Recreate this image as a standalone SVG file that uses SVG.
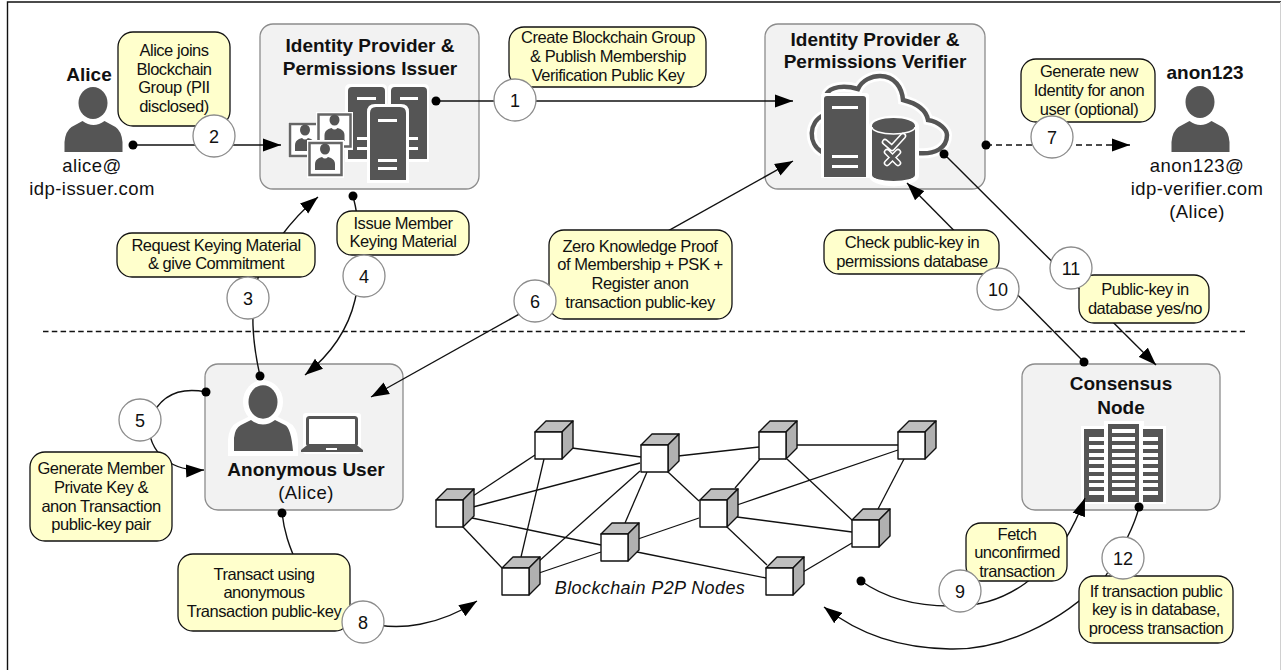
<svg xmlns="http://www.w3.org/2000/svg" width="1281" height="670" viewBox="0 0 1281 670">
<style>
text{font-family:"Liberation Sans",Arial,sans-serif;fill:#111;text-anchor:middle}
.t{font-size:16.5px;letter-spacing:-0.46px}
.l{font-size:18.5px;letter-spacing:0.45px}
.b{font-size:19px;font-weight:bold}
.n{font-size:18px}
.box{fill:#f2f2f2;stroke:#8c8c8c;stroke-width:1.3}
.co{fill:#ffffcc;stroke:#111;stroke-width:1.3}
.c{fill:#fff;stroke:#8c8c8c;stroke-width:1.3}
.k{fill:#555}
.w{fill:#fff}
.cw{fill:none;stroke:#111;stroke-width:1.4}
.da{marker-end:url(#arrow);marker-start:url(#dot)}
.cube path{stroke:#111;stroke-width:1.4;stroke-linejoin:round}
.f{fill:#fff}.g1{fill:#bfbfbf}.g2{fill:#b0b0b0}
#mesh line{stroke:#111;stroke-width:1.3}
</style>
<defs>
<marker id="arrow" markerUnits="userSpaceOnUse" markerWidth="19" markerHeight="14" refX="18" refY="7" orient="auto-start-reverse"><path d="M0 0.5L18 7L0 13.5Z" fill="#000"/></marker>
<marker id="dot" markerUnits="userSpaceOnUse" markerWidth="10" markerHeight="10" refX="5" refY="5"><circle cx="5" cy="5" r="4.5" fill="#000"/></marker>
<g id="cubeShape" class="cube"><path class="g1" d="M0 0L11 -11H38L27 0Z"/><path class="g2" d="M27 0L38 -11V16L27 27Z"/><path class="f" d="M0 0H27V27H0Z"/></g>
<g id="bust"><ellipse cx="0" cy="-21" rx="5" ry="5.5"/><path d="M-10 0V-6Q-10 -10 -6 -12L-3 -13Q0 -10 3 -13L6 -12Q10 -10 10 -6V0Z"/></g>
<path id="personBody" d="M-29 32V22Q-28 11 -22 7L-11 1Q0 9 11 1L22 7Q28 11 29 22V32Z"/>
</defs>
<g id="frame" fill="none"><path d="M7.5 670V2H1281" stroke="#111" stroke-width="1.4"/><path d="M1280.5 2V670" stroke="#d0d0d0"/></g>
<path id="divider" d="M43 331.5H1245" fill="none" stroke="#111" stroke-width="1.3" stroke-dasharray="5.5 3.3"/>
<g id="issuer">
<rect class="box" x="260" y="24" width="219" height="165" rx="13"/>
<text class="b" x="370" y="52">Identity Provider &amp;</text>
<text class="b" x="370" y="75">Permissions Issuer</text>
<path class="w" d="M345 89q0-5 5-5h32q5 0 5 5v73h-42zM388 89q0-5 5-5h31q5 0 5 5v73h-41z"/>
<path class="k" d="M348 91q0-4 4-4h29q4 0 4 4v68h-37zM391 91q0-4 4-4h28q4 0 4 4v68h-36z"/>
<path class="w" d="M357 97h19v3h-19zM400 97h18v3h-18zM357 137h19v3h-19zM357 147h19v3h-19zM400 137h18v3h-18zM400 147h18v3h-18z"/>
<path class="w" d="M367 112q0-8 8-8h26q8 0 8 8v71h-42z"/>
<path class="k" d="M370 113q0-6 6-6h24q6 0 6 6v67h-36z"/>
<path class="w" d="M378 119h19v3h-19zM378 159h19v3h-19zM378 167h19v3h-19z"/>
<rect x="288" y="122" width="36" height="36" fill="#fff"/>
<rect x="290" y="124" width="32" height="32" fill="#fff" stroke="#666" stroke-width="2.5"/>
<use href="#bust" x="305" y="151" class="k"/>
<rect x="316" y="112" width="37" height="38" fill="#fff"/>
<rect x="318.500" y="114.500" width="32" height="32" fill="#fff" stroke="#666" stroke-width="2.5"/>
<use href="#bust" x="334.500" y="141" class="k"/>
<rect x="307" y="140" width="37" height="38" fill="#fff"/>
<rect x="309.500" y="143" width="32" height="32" fill="#fff" stroke="#666" stroke-width="2.5"/>
<use href="#bust" x="325" y="170" class="k"/>
</g>
<g id="verifier">
<rect class="box" x="765" y="24" width="220" height="165" rx="13"/>
<text class="b" x="875" y="46">Identity Provider &amp;</text>
<text class="b" x="875" y="68">Permissions Verifier</text>
<path d="M822 152C808 144 808 122 824 115M826 95C830 86 845 85 858 89C862 80 872 76 880 76C895 76 902 88 903 100C915 103 926 108 928 120C940 122 947 130 947 135C947 148 935 155 917 153" fill="none" stroke="#fff" stroke-width="10"/>
<path d="M822 152C808 144 808 122 824 115M826 95C830 86 845 85 858 89C862 80 872 76 880 76C895 76 902 88 903 100C915 103 926 108 928 120C940 122 947 130 947 135C947 148 935 155 917 153" fill="none" stroke="#555" stroke-width="4.500"/>
<path class="w" d="M821 96q0-3 3-3h42q3 0 3 3v82h-48z"/>
<path class="k" d="M824 99q0-3 3-3h36q3 0 3 3v78h-42z"/>
<path class="w" d="M832 106h26v3h-26zM832 155h26v3h-26zM832 165h26v3h-26z"/>
<path class="w" d="M869 126a24 10 0 0 1 50 0v50a24 10 0 0 1-50 0z"/>
<path class="k" d="M872 126a21.500 8 0 0 1 43 0v49a21.500 6 0 0 1-43 0z"/>
<path d="M872 127a21.500 7 0 0 0 43 0" fill="none" stroke="#fff" stroke-width="1.500"/>
<path d="M885 142L892 148L903 136M887 152L898 163M898 152L887 163" fill="none" stroke="#fff" stroke-width="6.500" stroke-linecap="round" stroke-linejoin="round"/>
<path d="M885 142L892 148L903 136M887 152L898 163M898 152L887 163" fill="none" stroke="#555" stroke-width="3.500" stroke-linecap="round" stroke-linejoin="round"/>
</g>
<g id="anon-user">
<rect class="box" x="205" y="364" width="198" height="146" rx="13"/>
<ellipse cx="263" cy="402" rx="20" ry="22" fill="#fff"/>
<path d="M228 456V440Q229 426 238 422L250 416Q263 427 276 416L288 422Q297 426 298 440V456Z" fill="#fff"/>
<ellipse class="k" cx="263" cy="402" rx="14.500" ry="16.700"/>
<path class="k" d="M234 451V438Q235 428 241 425L251 420Q263 429 275 420L285 425Q291 428 293 451Z"/>
<rect x="303" y="413" width="58" height="41" rx="3" fill="#fff"/>
<rect x="307.500" y="417.500" width="49" height="28" rx="2" fill="#fff" stroke="#555" stroke-width="3"/>
<path class="k" d="M306 446H358L363 450V452H301V450Z"/>
<rect class="w" x="326" y="448" width="11" height="2"/>
<text class="b" x="306" y="476">Anonymous User</text>
<text class="l" x="306" y="499">(Alice)</text>
</g>
<g id="consensus">
<rect class="box" x="1022" y="364" width="198" height="146" rx="13"/>
<text class="b" x="1121" y="390">Consensus</text>
<text class="b" x="1121" y="414">Node</text>
<path class="w" d="M1081 426H1104V421H1144V426H1166V504H1081Z"/>
<path class="k" d="M1084 429H1104V502H1084ZM1108 424H1139V502H1108ZM1143 429H1163V502H1143Z"/>
<path class="w" d="M1089 437h15v4h-15zM1089 445h15v4h-15zM1089 453h15v4h-15zM1089 460h15v4h-15zM1089 468h15v4h-15zM1089 476h15v4h-15zM1089 483h15v4h-15zM1089 491h15v4h-15zM1112 429h23v4h-23zM1112 437h23v4h-23zM1112 445h23v4h-23zM1112 453h23v4h-23zM1112 460h23v4h-23zM1112 468h23v4h-23zM1112 476h23v4h-23zM1112 483h23v4h-23zM1112 491h23v4h-23zM1143 437h15v4h-15zM1143 445h15v4h-15zM1143 453h15v4h-15zM1143 460h15v4h-15zM1143 468h15v4h-15zM1143 476h15v4h-15zM1143 483h15v4h-15zM1143 491h15v4h-15z"/>
</g>
<g id="alice">
<text class="b" x="89" y="81">Alice</text>
<ellipse class="k" cx="93" cy="103" rx="14.500" ry="16"/>
<use href="#personBody" x="93.500" y="120" class="k"/>
<text class="l" x="92" y="172">alice@</text>
<text class="l" x="92" y="195">idp-issuer.com</text>
</g>
<g id="anon123">
<text class="b" x="1205" y="79">anon123</text>
<ellipse class="k" cx="1200" cy="102" rx="14.500" ry="16"/>
<use href="#personBody" x="1200.500" y="120" class="k"/>
<text class="l" x="1197" y="172">anon123@</text>
<text class="l" x="1197" y="195">idp-verifier.com</text>
<text class="l" x="1197" y="218">(Alice)</text>
</g>
<g id="p2p-network">
<g id="mesh">
<line x1="535" y1="455" x2="473" y2="496"/><line x1="544" y1="459" x2="521" y2="557"/><line x1="572" y1="448" x2="641" y2="457"/><line x1="640" y1="463" x2="473" y2="507"/><line x1="640" y1="471" x2="538" y2="562"/><line x1="647" y1="472" x2="625" y2="523"/><line x1="668" y1="472" x2="699" y2="501"/><line x1="678" y1="456" x2="759" y2="447"/><line x1="797" y1="445" x2="898" y2="445"/><line x1="760" y1="459" x2="735" y2="488"/><line x1="787" y1="459" x2="852" y2="520"/><line x1="898" y1="450" x2="737" y2="505"/><line x1="904" y1="459" x2="878" y2="509"/><line x1="737" y1="517" x2="852" y2="532"/><line x1="727" y1="527" x2="767" y2="565"/><line x1="699" y1="518" x2="638" y2="539"/><line x1="472" y1="518" x2="601" y2="545"/><line x1="463" y1="527" x2="502" y2="568"/><line x1="601" y1="552" x2="539" y2="573"/><line x1="637" y1="552" x2="766" y2="578"/><line x1="803" y1="572" x2="852" y2="543"/>
</g>
<use href="#cubeShape" x="535" y="432"/><use href="#cubeShape" x="641" y="445"/><use href="#cubeShape" x="759" y="432"/><use href="#cubeShape" x="898" y="432"/><use href="#cubeShape" x="436" y="500"/><use href="#cubeShape" x="700" y="500"/><use href="#cubeShape" x="852" y="520"/><use href="#cubeShape" x="601" y="534"/><use href="#cubeShape" x="502" y="568"/><use href="#cubeShape" x="766" y="568"/>
<text x="650" y="594" font-size="18" font-style="italic" letter-spacing="0.4">Blockchain P2P Nodes</text>
</g>
<g id="connectors" class="cw">
<path id="c1" class="da" d="M436 101H793"/>
<path id="c2" class="da" d="M133 145H281"/>
<path id="c3" class="da" d="M260 376C252 340 250 310 258 278C265 255 290 220 318 197"/>
<path id="c4" class="da" d="M353 196C358 215 365 260 355 300C348 330 330 355 305 375"/>
<path id="c5" class="da" d="M206 392C180 387 160 395 150 420C145 445 165 472 204 470"/>
<path id="c6" d="M793 161L371 397" marker-start="url(#arrow)" marker-end="url(#arrow)"/>
<path id="c7" class="da" d="M986 145H1130" stroke-dasharray="6 4"/>
<path id="c8" class="da" d="M282 513C284 530 288 545 300 570C320 610 340 620 363 622C400 632 440 625 477 601"/>
<path id="c9" class="da" d="M861 581C885 598 915 606 950 606C1000 608 1055 580 1085 498"/>
<path id="c10" d="M1084 362L907 183" marker-start="url(#dot)" marker-end="url(#arrow)"/>
<path id="c11" class="da" d="M944 154L1156 365"/>
<path id="c12" d="M1139 507C1135 525 1125 545 1105 577C1060 625 1000 650 950 649C900 648 860 635 824 607" marker-start="url(#dot)" marker-end="url(#arrow)"/>
</g>
<g id="label-2"><rect class="co" x="118" y="32" width="112" height="94" rx="15"/><text class="t" x="174" y="56">Alice joins</text><text class="t" x="174" y="75">Blockchain</text><text class="t" x="174" y="93">Group (PII</text><text class="t" x="174" y="112">disclosed)</text></g>
<g id="label-1"><rect class="co" x="509" y="27" width="197" height="60" rx="15"/><text class="t" x="608" y="43">Create Blockchain Group</text><text class="t" x="608" y="62">&amp; Publish Membership</text><text class="t" x="608" y="81">Verification Public Key</text></g>
<g id="label-7"><rect class="co" x="1021" y="59" width="134" height="63" rx="15"/><text class="t" x="1089" y="77">Generate new</text><text class="t" x="1089" y="96">Identity for anon</text><text class="t" x="1089" y="115">user (optional)</text></g>
<g id="label-3"><rect class="co" x="117" y="233" width="198" height="44" rx="15"/><text class="t" x="216" y="251">Request Keying Material</text><text class="t" x="216" y="269">&amp; give Commitment</text></g>
<g id="label-4"><rect class="co" x="337" y="211" width="132" height="44" rx="15"/><text class="t" x="403" y="229">Issue Member</text><text class="t" x="403" y="247">Keying Material</text></g>
<g id="label-6"><rect class="co" x="549" y="230" width="183" height="89" rx="15"/><text class="t" x="640" y="252">Zero Knowledge Proof</text><text class="t" x="640" y="270">of Membership + PSK +</text><text class="t" x="640" y="289">Register anon</text><text class="t" x="640" y="308">transaction public-key</text></g>
<g id="label-10"><rect class="co" x="824" y="230" width="175" height="44" rx="15"/><text class="t" x="912" y="248">Check public-key in</text><text class="t" x="912" y="267">permissions database</text></g>
<g id="label-11"><rect class="co" x="1079" y="275" width="130" height="48" rx="15"/><text class="t" x="1145" y="295">Public-key in</text><text class="t" x="1145" y="314">database yes/no</text></g>
<g id="label-5"><rect class="co" x="30" y="452" width="142" height="89" rx="15"/><text class="t" x="101" y="474">Generate Member</text><text class="t" x="101" y="493">Private Key &amp;</text><text class="t" x="101" y="512">anon Transaction</text><text class="t" x="101" y="530">public-key pair</text></g>
<g id="label-8"><rect class="co" x="178" y="554" width="172" height="77" rx="15"/><text class="t" x="264" y="580">Transact using</text><text class="t" x="264" y="598">anonymous</text><text class="t" x="264" y="617">Transaction public-key</text></g>
<g id="label-9"><rect class="co" x="966" y="523" width="101" height="58" rx="15"/><text class="t" x="1017" y="540">Fetch</text><text class="t" x="1017" y="558">unconfirmed</text><text class="t" x="1017" y="577">transaction</text></g>
<g id="label-12"><rect class="co" x="1079" y="576" width="154" height="67" rx="15"/><text class="t" x="1156" y="597">If transaction public</text><text class="t" x="1156" y="615">key is in database,</text><text class="t" x="1156" y="634">process transaction</text></g>
<g id="step-1"><circle class="c" cx="515" cy="100" r="21"/><text class="n" x="515" y="106.500">1</text></g>
<g id="step-2"><circle class="c" cx="214" cy="136" r="21"/><text class="n" x="214" y="142.500">2</text></g>
<g id="step-3"><circle class="c" cx="248" cy="298" r="21"/><text class="n" x="248" y="304.500">3</text></g>
<g id="step-4"><circle class="c" cx="364" cy="276" r="21"/><text class="n" x="364" y="282.500">4</text></g>
<g id="step-5"><circle class="c" cx="140" cy="420" r="21"/><text class="n" x="140" y="426.500">5</text></g>
<g id="step-6"><circle class="c" cx="535" cy="301" r="21"/><text class="n" x="535" y="307.500">6</text></g>
<g id="step-7"><circle class="c" cx="1052" cy="137" r="21"/><text class="n" x="1052" y="143.500">7</text></g>
<g id="step-8"><circle class="c" cx="363" cy="622" r="21"/><text class="n" x="363" y="628.500">8</text></g>
<g id="step-9"><circle class="c" cx="960" cy="591" r="21"/><text class="n" x="960" y="597.500">9</text></g>
<g id="step-10"><circle class="c" cx="998" cy="289" r="21"/><text class="n" x="998" y="295.500">10</text></g>
<g id="step-11"><circle class="c" cx="1071" cy="268" r="21"/><text class="n" x="1071" y="274.500">11</text></g>
<g id="step-12"><circle class="c" cx="1123" cy="558" r="21"/><text class="n" x="1123" y="564.500">12</text></g>
</svg>
